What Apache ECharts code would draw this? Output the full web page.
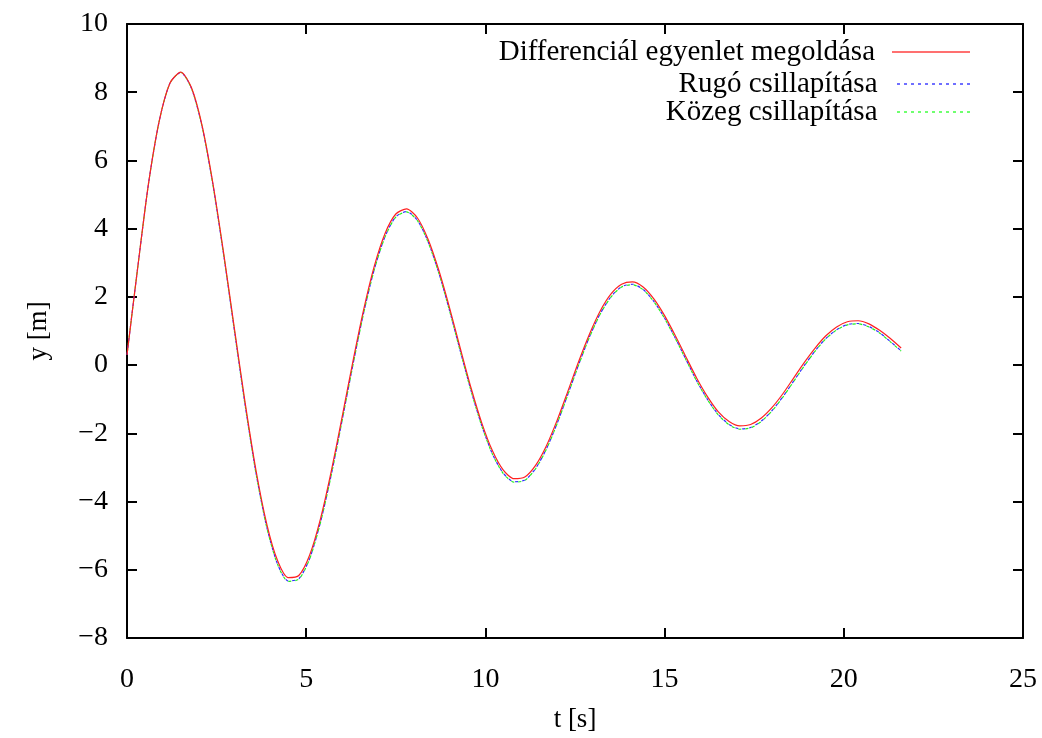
<!DOCTYPE html>
<html>
<head>
<meta charset="utf-8">
<script src="https://cdn.jsdelivr.net/npm/echarts@6/dist/echarts.min.js"></script>
<style>html,body{margin:0;padding:0;background:#fff}#c{width:1042px;height:738px}</style>
</head>
<body>
<div id="c"></div>
<script>
const seriesNames = ['Differenciál egyenlet megoldása', 'Rugó csillapítása', 'Közeg csillapítása'];
const tValues = [0,0.3,0.6,0.9,1.2,1.5,1.8,2.1,2.4,2.7,3.0,3.3,3.6,3.9,4.2,4.5,4.8,5.1,5.4,5.7,6.0,6.3,6.6,6.9,7.2,7.5,7.8,8.1,8.4,8.7,9.0,9.3,9.6,9.9,10.2,10.5,10.8,11.1,11.4,11.7,12.0,12.3,12.6,12.9,13.2,13.5,13.8,14.1,14.4,14.7,15.0,15.3,15.6,15.9,16.2,16.5,16.8,17.1,17.4,17.7,18.0,18.3,18.6,18.9,19.2,19.5,19.8,20.1,20.4,20.7,21.0,21.3,21.6];
const diffValues = [0.3,2.87,5.32,7.16,8.27,8.59,8.13,7.00,5.31,3.26,1.05,-1.13,-3.09,-4.66,-5.73,-6.23,-6.16,-5.56,-4.50,-3.11,-1.53,0.09,1.61,2.90,3.86,4.43,4.58,4.32,3.69,2.78,1.68,0.49,-0.67,-1.70,-2.52,-3.08,-3.33,-3.28,-2.94,-2.37,-1.62,-0.77,0.10,0.90,1.58,2.08,2.37,2.44,2.29,1.94,1.45,0.86,0.23,-0.39,-0.93,-1.37,-1.65,-1.78,-1.74,-1.55,-1.24,-0.84,-0.38,0.08,0.50,0.86,1.12,1.27,1.30,1.21,1.02,0.78,0.50];
const rugoValues = [0.3,2.87,5.32,7.16,8.27,8.58,8.11,6.97,5.27,3.21,0.99,-1.20,-3.17,-4.75,-5.83,-6.33,-6.26,-5.66,-4.60,-3.21,-1.63,-0.01,1.52,2.81,3.77,4.35,4.50,4.25,3.62,2.71,1.60,0.41,-0.75,-1.78,-2.61,-3.17,-3.42,-3.37,-3.03,-2.46,-1.71,-0.86,0.01,0.82,1.50,2.00,2.30,2.37,2.22,1.87,1.38,0.79,0.16,-0.47,-1.01,-1.45,-1.74,-1.87,-1.83,-1.64,-1.33,-0.93,-0.47,-0.01,0.42,0.78,1.04,1.19,1.22,1.13,0.95,0.69,0.42];
const kozegValues = [0.3,2.87,5.32,7.16,8.27,8.58,8.11,6.97,5.26,3.20,0.98,-1.21,-3.18,-4.76,-5.84,-6.34,-6.27,-5.67,-4.61,-3.22,-1.64,-0.02,1.51,2.80,3.76,4.34,4.49,4.24,3.61,2.70,1.59,0.40,-0.76,-1.79,-2.62,-3.18,-3.43,-3.38,-3.04,-2.47,-1.72,-0.87,0.00,0.81,1.49,1.99,2.29,2.36,2.21,1.86,1.37,0.78,0.15,-0.48,-1.02,-1.46,-1.75,-1.88,-1.84,-1.65,-1.34,-0.94,-0.48,-0.02,0.41,0.77,1.03,1.18,1.21,1.12,0.94,0.68,0.41];
const xTicks = {min: 0, max: 25, interval: 5};
const yTicks = {min: -8, max: 10, interval: 2};

const FONT = '"Liberation Serif", "Times New Roman", serif';
const pairs = vals => tValues.map((t, i) => [t, vals[i]]);
const axisLine = {show: true, onZero: false, lineStyle: {color: '#000', width: 2}};
const tick = {show: true, inside: true, length: 10, lineStyle: {color: '#000', width: 2}};

// legend sample icons (solid and dotted lines)
const ICON_W = 78, ICON_H = 1.6;
const solidIcon = 'path://M0,0H' + ICON_W + 'V' + ICON_H + 'H0Z';
let dotted = '';
for (let x = 0; x + 3 <= ICON_W; x += 7) dotted += 'M' + x + ',0H' + (x + 3) + 'V' + ICON_H + 'H' + x + 'Z';
const dottedIcon = 'path://' + dotted;

const chart = echarts.init(document.getElementById('c'), null, {renderer: 'canvas'});
const legendBase = {
  orient: 'vertical', right: 67, align: 'right', itemWidth: ICON_W, itemHeight: ICON_H,
  textStyle: {fontFamily: FONT, fontSize: 29, lineHeight: 30, color: '#000', padding: [0, 12, 0, 0]},
  selectedMode: false
};
chart.setOption({
  animation: false,
  backgroundColor: '#fff',
  grid: {left: 127, right: 19, top: 24, bottom: 90, containLabel: false},
  legend: [
    Object.assign({}, legendBase, {top: 32, data: [{name: seriesNames[0], icon: solidIcon, itemStyle: {color: '#ff4040'}}]}),
    Object.assign({}, legendBase, {top: 64, data: [{name: seriesNames[1], icon: dottedIcon, itemStyle: {color: '#4040ff'}}]}),
    Object.assign({}, legendBase, {top: 92, data: [{name: seriesNames[2], icon: dottedIcon, itemStyle: {color: '#40ff40'}}]})
  ],
  xAxis: [
    {type: 'value', min: xTicks.min, max: xTicks.max, interval: xTicks.interval, position: 'bottom',
     name: 't [s]', nameLocation: 'middle', nameGap: 68,
     nameTextStyle: {fontFamily: FONT, fontSize: 27, color: '#000'},
     axisLine: axisLine, axisTick: tick, splitLine: {show: false},
     axisLabel: {fontFamily: FONT, fontSize: 28, color: '#000', margin: 28}},
    {type: 'value', min: xTicks.min, max: xTicks.max, interval: xTicks.interval, position: 'top',
     axisLine: axisLine, axisTick: tick, splitLine: {show: false}, axisLabel: {show: false}}
  ],
  yAxis: [
    {type: 'value', min: yTicks.min, max: yTicks.max, interval: yTicks.interval, position: 'left',
     name: 'y [m]', nameLocation: 'middle', nameGap: 75, nameRotate: 90,
     nameTextStyle: {fontFamily: FONT, fontSize: 27, color: '#000'},
     axisLine: axisLine, axisTick: tick, splitLine: {show: false},
     axisLabel: {fontFamily: FONT, fontSize: 28, color: '#000', margin: 19,
                 formatter: v => (v < 0 ? '\u2212' + Math.abs(v) : String(v))}},
    {type: 'value', min: yTicks.min, max: yTicks.max, interval: yTicks.interval, position: 'right',
     axisLine: axisLine, axisTick: tick, splitLine: {show: false}, axisLabel: {show: false}}
  ],
  series: [
    {name: seriesNames[0], type: 'line', data: pairs(diffValues), showSymbol: false, symbol: 'none', smooth: 0.25,
     lineStyle: {color: '#ff2020', width: 1.2}, itemStyle: {color: '#ff2020'}, z: 3},
    {name: seriesNames[1], type: 'line', data: pairs(rugoValues), showSymbol: false, symbol: 'none', smooth: 0.25,
     lineStyle: {color: '#3030ff', width: 1.2, type: [3, 4]}, itemStyle: {color: '#3030ff'}, z: 2},
    {name: seriesNames[2], type: 'line', data: pairs(kozegValues), showSymbol: false, symbol: 'none', smooth: 0.25,
     lineStyle: {color: '#20ee20', width: 1.2, type: [3, 4], dashOffset: 3.5}, itemStyle: {color: '#20ee20'}, z: 2}
  ]
});
</script>
</body>
</html>
